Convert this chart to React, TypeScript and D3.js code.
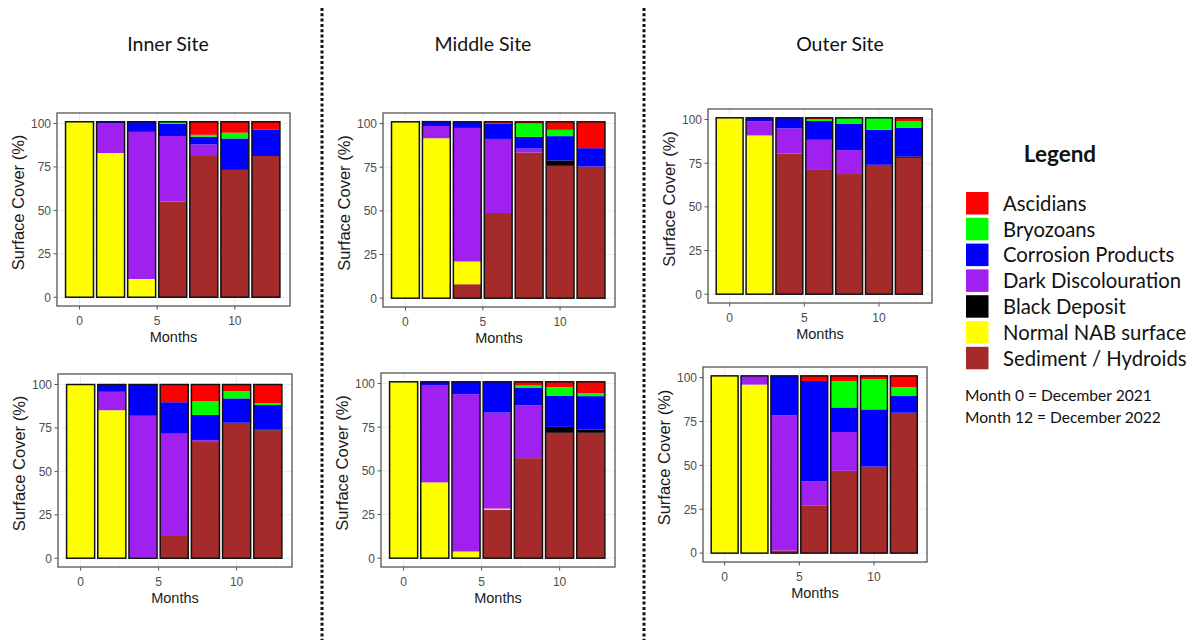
import React from 'react';
import * as d3 from 'd3';

// months sampled (bars)
const months = [0, 2, 4, 6, 8, 10, 12];

// stacking order, bottom to top
const categories = [
  'Sediment / Hydroids',
  'Normal NAB surface',
  'Black Deposit',
  'Dark Discolouration',
  'Corrosion Products',
  'Bryozoans',
  'Ascidians',
];

const colours: Record<string, string> = {
  Ascidians: '#ff0000',
  Bryozoans: '#00ff00',
  'Corrosion Products': '#0000ff',
  'Dark Discolouration': '#a020f0',
  'Black Deposit': '#000000',
  'Normal NAB surface': '#ffff00',
  'Sediment / Hydroids': '#a52a2a',
};

const legendOrder = [
  'Ascidians',
  'Bryozoans',
  'Corrosion Products',
  'Dark Discolouration',
  'Black Deposit',
  'Normal NAB surface',
  'Sediment / Hydroids',
];

const siteTitles = ['Inner Site', 'Middle Site', 'Outer Site'];
const yTicks = [0, 25, 50, 75, 100];
const xTicks = [0, 5, 10];

// each row is one category (same order as `categories`), one value per month
const innerTop = [
  [0, 0, 0, 55, 81.3, 73.3, 81.3],
  [101, 83, 10.5, 0, 0, 0, 0],
  [0, 0, 0, 0, 0, 0, 0],
  [0, 17, 84.7, 37.8, 6.7, 0, 0],
  [0, 1, 5.8, 7, 4.4, 18.1, 15.1],
  [0, 0, 0, 1.2, 1.1, 3.3, 0],
  [0, 0, 0, 0, 7.5, 6.3, 4.6],
];
const middleTop = [
  [0, 0, 8, 48.8, 83.4, 75.8, 75.4],
  [101, 91.6, 13, 0, 0, 0, 0],
  [0, 0, 0, 0, 0, 3.1, 0],
  [0, 7, 76.5, 42.4, 2.3, 0, 0],
  [0, 2.5, 3.5, 8.8, 6.7, 13.9, 10.5],
  [0, 0, 0, 0, 7.6, 3.6, 0],
  [0, 0, 0, 1, 1, 4.6, 15.1],
];
const outerTop = [
  [0, 0, 80.6, 71.6, 68.8, 74.1, 78.1],
  [101, 90.9, 0, 0, 0, 0, 0],
  [0, 0, 0, 0, 0, 0, 0.8],
  [0, 8.1, 14.4, 16.8, 13.7, 0, 0],
  [0, 2, 6, 10.8, 15, 20, 16.3],
  [0, 0, 0, 1, 3.5, 6.9, 3.8],
  [0, 0, 0, 0.8, 0, 0, 2],
];
const innerBottom = [
  [0, 0, 0.5, 13.3, 67.4, 78, 73.6],
  [100, 85.2, 0, 0, 0, 0, 0],
  [0, 0, 0, 0, 0, 0, 0.6],
  [0, 10.6, 81.5, 58.4, 0.6, 0, 0],
  [0, 4.2, 18, 18.1, 14.5, 14, 14],
  [0, 0, 0, 0, 8, 4.2, 1],
  [0, 0, 0, 10.2, 9.5, 3.8, 10.8],
];
const middleBottom = [
  [0, 0, 0, 27.8, 57.3, 71.8, 71.8],
  [101, 43.4, 3.8, 0.6, 0, 0, 0],
  [0, 0, 0, 0, 0, 3.4, 1.9],
  [0, 55.8, 90.1, 55, 30.3, 0, 0],
  [0, 1.8, 7.1, 17.6, 10.1, 17.9, 19.1],
  [0, 0, 0, 0, 1.2, 4.9, 1.7],
  [0, 0, 0, 0, 2.1, 3, 6.5],
];
const outerBottom = [
  [0, 0, 1.5, 27, 46.9, 49.3, 80],
  [101, 96, 0, 0, 0, 0, 0],
  [0, 0, 0, 0, 0, 0, 0],
  [0, 5, 77, 14, 22.1, 0, 0],
  [0, 0, 22.5, 57.1, 14, 32.6, 9.5],
  [0, 0, 0, 0, 15.1, 17.1, 5],
  [0, 0, 0, 2.9, 2.9, 2, 6.5],
];

const panelData = [innerTop, middleTop, outerTop, innerBottom, middleBottom, outerBottom];

// panel rectangles in page px
const panelRects = [
  { x: 57, y: 113, w: 233, h: 193 },
  { x: 383, y: 113, w: 232, h: 194 },
  { x: 708, y: 109, w: 224, h: 194 },
  { x: 58, y: 374, w: 234, h: 193 },
  { x: 381, y: 373, w: 234, h: 194 },
  { x: 703, y: 367, w: 224, h: 195 },
];

const tickFont = '"Liberation Sans", Arial, sans-serif';
const labelFont = '"Lato", "Open Sans", sans-serif';

function Panel({ data, rect }: { data: number[][]; rect: { x: number; y: number; w: number; h: number } }) {
  const x = d3.scaleLinear().domain([-1.45, 13.55]).range([rect.x, rect.x + rect.w]);
  const y = d3.scaleLinear().domain([-5.05, 106.05]).range([rect.y + rect.h, rect.y]);

  const rows = months.map((m, i) => {
    const r: Record<string, number> = { month: m };
    categories.forEach((c, k) => (r[c] = data[k][i]));
    return r;
  });
  const series = d3.stack<Record<string, number>>().keys(categories)(rows);
  const barW = x(0.9) - x(-0.9);

  const yMinor = [12.5, 37.5, 62.5, 87.5];
  const xMinor = [2.5, 7.5, 12.5];

  return (
    <g>
      <rect x={rect.x} y={rect.y} width={rect.w} height={rect.h} fill="#fff" />
      {yMinor.map((t) => (
        <line key={'ym' + t} x1={rect.x} x2={rect.x + rect.w} y1={y(t)} y2={y(t)} stroke="#f3f3f3" strokeWidth={0.6} />
      ))}
      {xMinor.map((t) => (
        <line key={'xm' + t} x1={x(t)} x2={x(t)} y1={rect.y} y2={rect.y + rect.h} stroke="#f3f3f3" strokeWidth={0.6} />
      ))}
      {yTicks.map((t) => (
        <line key={'yg' + t} x1={rect.x} x2={rect.x + rect.w} y1={y(t)} y2={y(t)} stroke="#ebebeb" strokeWidth={1} />
      ))}
      {xTicks.map((t) => (
        <line key={'xg' + t} x1={x(t)} x2={x(t)} y1={rect.y} y2={rect.y + rect.h} stroke="#ebebeb" strokeWidth={1} />
      ))}
      {series.map((s) => (
        <g key={s.key} fill={colours[s.key]}>
          {s.map((d, i) =>
            d[1] - d[0] > 0 ? (
              <rect
                key={i}
                x={x(months[i]) - barW / 2}
                width={barW}
                y={y(d[1])}
                height={y(d[0]) - y(d[1])}
              />
            ) : null
          )}
        </g>
      ))}
      {rows.map((r, i) => {
        const total = d3.sum(categories, (c) => r[c]);
        return (
          <rect
            key={'o' + i}
            x={x(months[i]) - barW / 2}
            width={barW}
            y={y(total)}
            height={y(0) - y(total)}
            fill="none"
            stroke="#111"
            strokeWidth={1.5}
          />
        );
      })}
      <rect x={rect.x} y={rect.y} width={rect.w} height={rect.h} fill="none" stroke="#555" strokeWidth={1.3} />
      {yTicks.map((t) => (
        <g key={'yt' + t}>
          <line x1={rect.x - 3.5} x2={rect.x} y1={y(t)} y2={y(t)} stroke="#555" strokeWidth={1} />
          <text x={rect.x - 6} y={y(t)} dy="0.36em" textAnchor="end" fontSize={12} fill="#4d4d4d" fontFamily={tickFont}>
            {t}
          </text>
        </g>
      ))}
      {xTicks.map((t) => (
        <g key={'xt' + t}>
          <line x1={x(t)} x2={x(t)} y1={rect.y + rect.h} y2={rect.y + rect.h + 3.5} stroke="#555" strokeWidth={1} />
          <text x={x(t)} y={rect.y + rect.h + 18.5} textAnchor="middle" fontSize={12} fill="#4d4d4d" fontFamily={tickFont}>
            {t}
          </text>
        </g>
      ))}
      <text
        x={(rect.x * 2 + rect.w) / 2}
        y={rect.y + rect.h + 36}
        textAnchor="middle"
        fontSize={14.5}
        fill="#1a1a1a"
        fontFamily={tickFont}
      >
        Months
      </text>
      <text
        transform={`translate(${rect.x - 33},${rect.y + rect.h / 2 - 7}) rotate(-90)`}
        textAnchor="middle"
        fontSize={16.5}
        fill="#1a1a1a"
        fontFamily={tickFont}
      >
        Surface Cover (%)
      </text>
    </g>
  );
}

export default function App() {
  const titleX = [168, 483, 840];
  return (
    <svg width={1194} height={640} style={{ position: 'absolute', left: 0, top: 0, background: '#fff' }}>
      <rect width={1194} height={640} fill="#fff" />
      {siteTitles.map((t, i) => (
        <text key={t} x={titleX[i]} y={51} textAnchor="middle" fontSize={19.5} fill="#111" fontFamily={labelFont}>
          {t}
        </text>
      ))}
      {[322, 644].map((lx) => (
        <line key={lx} x1={lx} x2={lx} y1={8} y2={640} stroke="#111" strokeWidth={3} strokeDasharray="3 2.3" />
      ))}
      {panelData.map((d, i) => (
        <Panel key={i} data={d} rect={panelRects[i]} />
      ))}
      <g fontFamily={labelFont}>
        <text x={1060} y={162} textAnchor="middle" fontSize={22.5} fontWeight="bold" fill="#111">
          Legend
        </text>
        {legendOrder.map((c, i) => (
          <g key={c}>
            <rect x={966} y={192 + i * 25.8} width={22.5} height={22.5} fill={colours[c]} />
            <text x={1003} y={192 + i * 25.8 + 11.5} dy="0.36em" fontSize={20.3} fill="#111">
              {c}
            </text>
          </g>
        ))}
        <text x={965} y={401} fontSize={15.6} fill="#111">
          Month 0 = December 2021
        </text>
        <text x={965} y={423} fontSize={15.6} fill="#111">
          Month 12 = December 2022
        </text>
      </g>
    </svg>
  );
}
